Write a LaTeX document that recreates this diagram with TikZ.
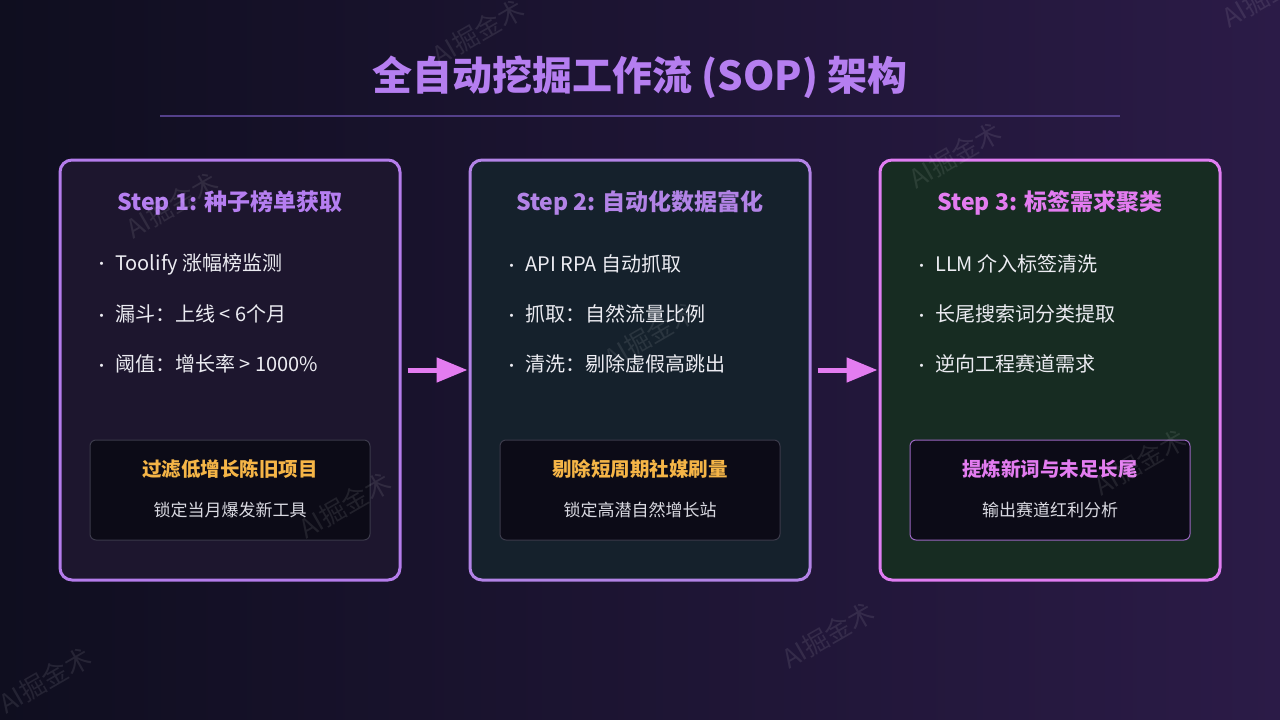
\documentclass[tikz,border=0pt]{standalone}
\usepackage{fontspec}
\setmainfont{Noto Sans CJK SC}
\usetikzlibrary{arrows.meta}
\definecolor{bgl}{HTML}{0F0E1F}
\definecolor{bgr}{HTML}{2B1B47}
\definecolor{titlec}{HTML}{B57EF0}
\definecolor{rulec}{HTML}{54408A}
\definecolor{cardA}{HTML}{1D162E}
\definecolor{cardB}{HTML}{15212C}
\definecolor{cardC}{HTML}{172C22}
\definecolor{edgeA}{HTML}{B47CEB}
\definecolor{edgeB}{HTML}{B283E6}
\definecolor{edgeC}{HTML}{E07DF2}
\definecolor{innerbg}{HTML}{0C0B17}
\definecolor{inneredge}{HTML}{3B3A4A}
\definecolor{inneredgeC}{HTML}{9A66C0}
\definecolor{gold}{HTML}{F5B547}
\definecolor{magenta}{HTML}{E37CF0}
\definecolor{txt}{HTML}{ECECF2}
\definecolor{subtxt}{HTML}{DADAE2}
\newcommand{\itemdot}{\makebox[22pt][l]{\hspace{1pt}\fontsize{15}{15}\selectfont\raisebox{0.5pt}{•}}}

\begin{document}
\begin{tikzpicture}[x=1pt,y=-1pt,
  card/.style={draw,line width=3pt,rounded corners=12pt,
    minimum width=340pt,minimum height=420pt},
  innerbox/.style={draw,line width=1pt,rounded corners=6pt,fill=innerbg,
    minimum width=280pt,minimum height=100pt},
  steptitle/.style={font=\fontsize{23}{28}\selectfont\bfseries},
  bullet/.style={anchor=west,inner sep=0pt,text=txt,
    font=\fontsize{20}{24}\selectfont},
  hl/.style={font=\fontsize{19.5}{23}\selectfont\bfseries},
  sub/.style={text=subtxt,font=\fontsize{17}{20}\selectfont},
  wmark/.style={rotate=30,text=white,opacity=0.09,
    font=\fontsize{26}{30}\selectfont},
  flow/.style={-{Triangle[length=31pt,width=24pt]},line width=5pt,
    draw=magenta,shorten <=6pt,shorten >=1pt}]
\useasboundingbox (0,0) rectangle (1280,720);
\shade[left color=bgl,right color=bgr] (0,0) rectangle (1280,720);

\node[font=\fontsize{40}{48}\selectfont\bfseries,text=titlec] (title) at (640,77)
  {全自动挖掘工作流 (SOP) 架构};
\coordinate (rl) at (160,116);
\coordinate (rr) at (1120,116);
\draw[rulec,line width=1.5pt] (rl) -- (rr);

\node[card,draw=edgeA,fill=cardA] (c1) at (230,370) {};
\node[card,draw=edgeB,fill=cardB] (c2) at (640,370) {};
\node[card,draw=edgeC,fill=cardC] (c3) at (1050,370) {};

\node[steptitle,text=titlec] (t1) at (230,203) {Step 1: 种子榜单获取};
\node[steptitle,text=edgeB] (t2) at (640,203) {Step 2: 自动化数据富化};
\node[steptitle,text=magenta] (t3) at (1050,203) {Step 3: 标签需求聚类};

\node[bullet] (b11) at (93,264) {\itemdot Toolify 涨幅榜监测};
\node[bullet] (b12) at (93,314) {\itemdot 漏斗：上线 < 6个月};
\node[bullet] (b13) at (93,364) {\itemdot 阈值：增长率 > 1000\%};
\node[bullet] (b21) at (503,264) {\itemdot API RPA 自动抓取};
\node[bullet] (b22) at (503,314) {\itemdot 抓取：自然流量比例};
\node[bullet] (b23) at (503,364) {\itemdot 清洗：剔除虚假高跳出};
\node[bullet] (b31) at (913,264) {\itemdot LLM 介入标签清洗};
\node[bullet] (b32) at (913,314) {\itemdot 长尾搜索词分类提取};
\node[bullet] (b33) at (913,364) {\itemdot 逆向工程赛道需求};

\node[innerbox,draw=inneredge] (k1) at (230,490) {};
\node[innerbox,draw=inneredge] (k2) at (640,490) {};
\node[innerbox,draw=inneredgeC] (k3) at (1050,490) {};
\node[hl,text=gold] (h1) at (230,469) {过滤低增长陈旧项目};
\node[sub] (s1) at (230,510) {锁定当月爆发新工具};
\node[hl,text=gold] (h2) at (640,469) {剔除短周期社媒刷量};
\node[sub] (s2) at (640,510) {锁定高潜自然增长站};
\node[hl,text=magenta] (h3) at (1050,469) {提炼新词与未足长尾};
\node[sub] (s3) at (1050,510) {输出赛道红利分析};

\draw[flow] (c1.east) -- (c2.west);
\draw[flow] (c2.east) -- (c3.west);

\node[wmark] (w1) at (172,205) {AI掘金术};
\node[wmark] (w2) at (478,32) {AI掘金术};
\node[wmark] (w3) at (955,155) {AI掘金术};
\node[wmark] (w4) at (650,335) {AI掘金术};
\node[wmark] (w5) at (345,505) {AI掘金术};
\node[wmark] (w6) at (1140,462) {AI掘金术};
\node[wmark] (w7) at (828,635) {AI掘金术};
\node[wmark] (w8) at (45,680) {AI掘金术};
\node[wmark] (w9) at (1268,-6) {AI掘金术};
\end{tikzpicture}
\end{document}
